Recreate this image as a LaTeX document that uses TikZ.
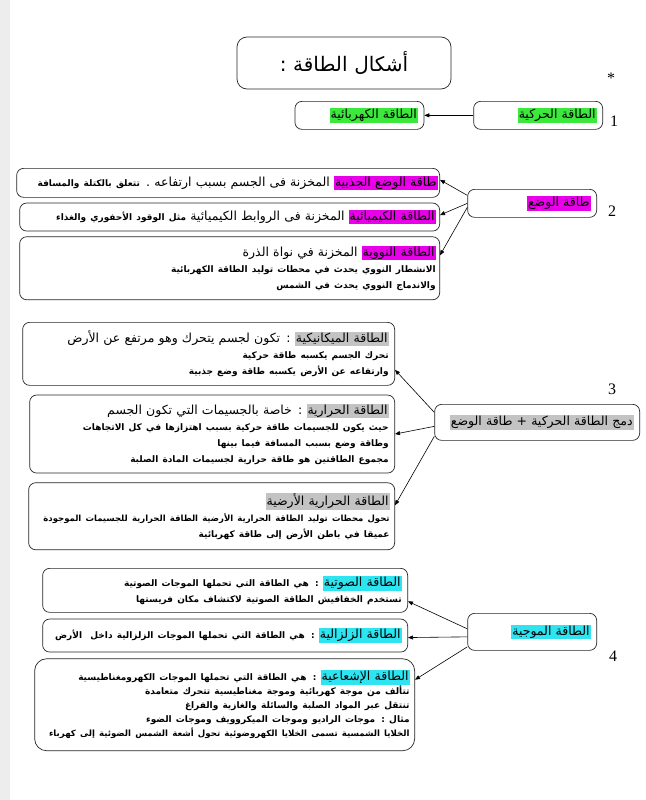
\documentclass[tikz,border=0pt]{standalone}
\usepackage{fontspec}
\setmainfont{Liberation Serif}
\newfontfamily\arabicfont[Script=Arabic]{DejaVu Sans}
\usetikzlibrary{arrows.meta, positioning, calc}
\TeXXeTstate=1
\definecolor{hlgreen}{RGB}{60,232,60}
\definecolor{hlmag}{RGB}{232,0,232}
\definecolor{hlcyan}{RGB}{45,228,240}
\definecolor{hlgrey}{RGB}{195,195,195}
\newcommand{\arln}[1]{\mbox{\beginR #1\endR}}
\newcommand{\hlt}[2]{{\setlength{\fboxsep}{1pt}\colorbox{#1}{\beginR #2\endR}}}
% highlighted label on the right, rest of the line to its left
\newcommand{\hlline}[3]{\mbox{\beginR #3\endR}\ \hlt{#1}{#2}}
\newcommand{\bsmall}{\bfseries\fontsize{9}{11}\selectfont}

\begin{document}
\begin{tikzpicture}[
  x=1pt, y=-1pt,
  >={Triangle[length=5pt,width=4pt]},
  box/.style={draw=black!85, line width=0.7pt, rounded corners=7pt, inner sep=4pt,
    align=right, anchor=north east, font=\arabicfont\fontsize{12.5}{16}\selectfont},
  hub/.style={box, inner sep=6pt},
  num/.style={font=\fontsize{16}{16}\selectfont},
  link/.style={->, line width=0.6pt}]
  \fill[white] (0,0) rectangle (645,800);
  \fill[black!7] (0,0) rectangle (10,800);
  \useasboundingbox (0,0) rectangle (645,800);

  % title
  \node[box, align=center, anchor=center, rounded corners=10pt, text width=206pt, minimum height=52pt,
    font=\arabicfont\fontsize{20}{24}\selectfont] (title) at (344,63) {\arln{أشكال الطاقة :}};
  \node[num] (star) at (611,78) {*};

  % 1
  \node[hub, text width=117pt, minimum height=28pt] (kin) at (603,101) {\hlt{hlgreen}{الطاقة الحركية}};
  \node[hub, text width=117pt, minimum height=28pt, left=49pt of kin.north west, anchor=north east] (elec)
    {\hlt{hlgreen}{الطاقة الكهربائية}};
  \node[num] (n1) at (614,121) {1};
  \draw[link] (kin) -- (elec);

  % 2
  \node[hub, text width=117pt, minimum height=28pt] (pot) at (597,189) {\hlt{hlmag}{طاقة الوضع}};
  \node[num] (n2) at (612,211) {2};
  \node[box, inner sep=2pt, text width=419pt, minimum height=29pt] (grav) at (440,168)
    {\hlline{hlmag}{طاقة الوضع الجذبية}{المخزنة فى الجسم بسبب ارتفاعه . {\bsmall تتعلق بالكتلة والمسافة}}};
  \node[box, text width=412pt, minimum height=28pt, below=5pt of grav.south east, anchor=north east] (chem)
    {\hlline{hlmag}{الطاقة الكيميائية}{المخزنة فى الروابط الكيميائية {\bsmall مثل الوقود الأحفوري والغذاء}}};
  \node[box, text width=412pt, minimum height=63pt, below=5pt of chem.south east, anchor=north east] (nuc)
    {\hlline{hlmag}{الطاقة النووية}{المخزنة في نواة الذرة}\\
     {\bsmall\arln{الانشطار النووي يحدث في محطات توليد الطاقة الكهربائية}}\\
     {\bsmall\arln{والاندماج النووي يحدث في الشمس}}};
  \draw[link] ($(pot.west)+(0,-8)$) -- ($(grav.east)+(0,-3)$);
  \draw[link] (pot.west) -- ($(chem.east)+(0,-2)$);
  \draw[link] ($(pot.west)+(0,4)$) -- ($(nuc.east)+(0,-13)$);

  % 3
  \node[hub, text width=193pt, minimum height=36pt] (comb) at (640,404)
    {\hlt{hlgrey}{دمج الطاقة الحركية + طاقة الوضع}};
  \node[num] (n3) at (612,389) {3};
  \node[box, inner sep=6pt, text width=360pt, minimum height=63pt] (mech) at (395,322)
    {\hlline{hlgrey}{الطاقة الميكانيكية}{: تكون لجسم يتحرك وهو مرتفع عن الأرض}\\
     {\bsmall\arln{تحرك الجسم يكسبه طاقة حركية}}\\
     {\bsmall\arln{وارتفاعه عن الأرض يكسبه طاقة وضع جذبية}}};
  \node[box, inner sep=6pt, text width=353pt, minimum height=78pt, below=9pt of mech.south east, anchor=north east] (therm)
    {\hlline{hlgrey}{الطاقة الحرارية}{: خاصة بالجسيمات التي تكون الجسم}\\
     {\bsmall\arln{حيث يكون للجسيمات طاقة حركية بسبب اهتزازها في كل الاتجاهات}}\\
     {\bsmall\arln{وطاقة وضع بسبب المسافة فيما بينها}}\\
     {\bsmall\arln{مجموع الطاقتين هو طاقة حرارية لجسيمات المادة الصلبة}}};
  \node[box, inner sep=5pt, text width=356pt, minimum height=67pt, below=9pt of therm.south east, anchor=north east] (geo)
    {\hlt{hlgrey}{الطاقة الحرارية الأرضية}\\
     {\bsmall\fontsize{8.5}{11}\selectfont\arln{تحول محطات توليد الطاقة الحرارية الأرضية الطاقة الحرارية للجسيمات الموجودة}}\\
     {\bsmall\arln{عميقا في باطن الأرض إلى طاقة كهربائية}}};
  \draw[link] ($(comb.west)+(0,-10)$) -- ($(mech.east)+(0,16)$);
  \draw[link] ($(comb.west)+(0,4)$) -- (therm.east);
  \draw[link] ($(comb.west)+(0,14)$) -- ($(geo.east)+(0,-11)$);

  % 4
  \node[hub, text width=117pt, minimum height=37pt] (wave) at (597,613) {\hlt{hlcyan}{الطاقة الموجية}};
  \node[num] (n4) at (613,656) {4};
  \node[box, inner sep=6pt, text width=353pt, minimum height=44pt] (sound) at (408,568)
    {\hlline{hlcyan}{الطاقة الصوتية}{{\bsmall : هي الطاقة التي تحملها الموجات الصوتية}}\\
     {\bsmall\arln{تستخدم الخفافيش الطاقة الصوتية لاكتشاف مكان فريستها}}};
  \node[box, inner sep=6pt, text width=353pt, minimum height=33pt, below=6pt of sound.south east, anchor=north east] (seis)
    {\hlline{hlcyan}{الطاقة الزلزالية}{{\bsmall : هي الطاقة التي تحملها الموجات الزلزالية داخل\ \ الأرض}}};
  \node[box, inner sep=5pt, text width=370pt, minimum height=92pt, rounded corners=12pt,
    font=\arabicfont\fontsize{12.5}{14}\selectfont, below=6pt of seis.south east, anchor=north east, xshift=7pt] (rad)
    {\hlline{hlcyan}{الطاقة الإشعاعية}{{\bsmall : هي الطاقة التي تحملها الموجات الكهرومغناطيسية}}\\
     {\bsmall\arln{تتألف من موجة كهربائية وموجة مغناطيسية تتحرك متعامدة}}\\
     {\bsmall\arln{تنتقل عبر المواد الصلبة والسائلة والغازية والفراغ}}\\
     {\bsmall\arln{مثال : موجات الراديو وموجات الميكروويف وموجات الضوء}}\\
     {\bsmall\fontsize{8.6}{11}\selectfont\arln{الخلايا الشمسية تسمى الخلايا الكهروضوئية تحول أشعة الشمس الضوئية إلى كهرباء}}};
  \draw[link] ($(wave.west)+(0,-3)$) -- ($(sound.east)+(0,11)$);
  \draw[link] ($(wave.west)+(0,5)$) -- ($(seis.east)+(0,2)$);
  \draw[link] ($(wave.west)+(0,15)$) -- ($(rad.east)+(0,-25)$);
\end{tikzpicture}
\end{document}
